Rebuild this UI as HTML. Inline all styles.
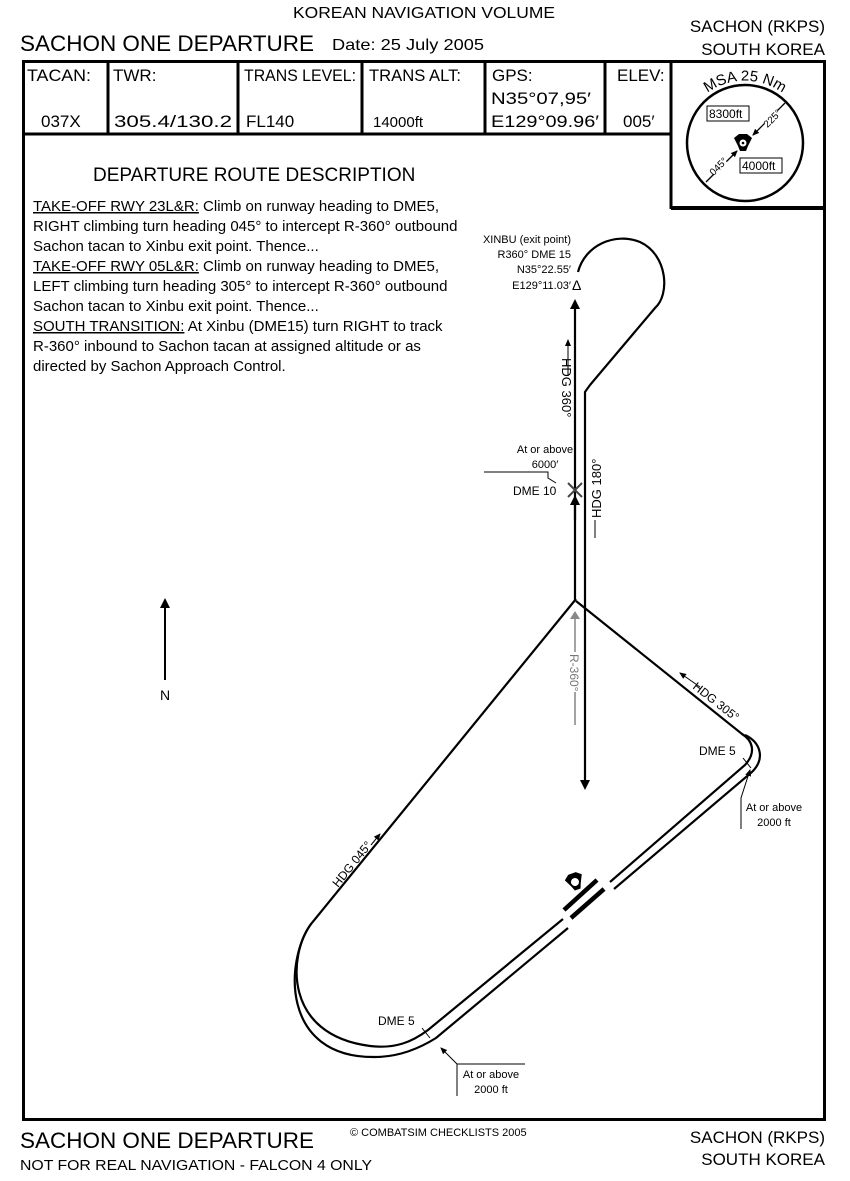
<!DOCTYPE html>
<html><head><meta charset="utf-8"><style>
html,body{margin:0;padding:0;background:#fff}
svg{display:block}
text{font-family:"Liberation Sans",sans-serif;fill:#000}
</style></head><body>
<svg width="850" height="1181" viewBox="0 0 850 1181" xmlns="http://www.w3.org/2000/svg">
<defs>
<marker id="ah" markerWidth="10" markerHeight="10" refX="5" refY="5" orient="auto" markerUnits="userSpaceOnUse">
<path d="M0,0 L10,5 L0,10 z" fill="#000"/></marker>
<marker id="ahs" markerWidth="7" markerHeight="6" refX="6" refY="3" orient="auto" markerUnits="userSpaceOnUse">
<path d="M0,0 L7,3 L0,6 z" fill="#000"/></marker>
<marker id="ahg" markerWidth="8" markerHeight="10" refX="4" refY="5" orient="auto" markerUnits="userSpaceOnUse">
<path d="M0,0 L8,5 L0,10 z" fill="#888"/></marker>
<path id="msaarc" d="M690,112 A64,64 0 0 1 800,112"/>
</defs>
<!-- header -->
<text x="424" y="18" font-size="16" text-anchor="middle" textLength="262" lengthAdjust="spacingAndGlyphs">KOREAN NAVIGATION VOLUME</text>
<text x="20" y="51" font-size="22" textLength="294" lengthAdjust="spacingAndGlyphs">SACHON ONE DEPARTURE</text>
<text x="332" y="50" font-size="16" textLength="152" lengthAdjust="spacingAndGlyphs">Date: 25 July 2005</text>
<text x="825" y="32" font-size="17" text-anchor="end">SACHON (RKPS)</text>
<text x="825" y="55" font-size="17" text-anchor="end">SOUTH KOREA</text>
<!-- frame -->
<rect x="23.5" y="61.5" width="801" height="1058" fill="none" stroke="#000" stroke-width="3"/>
<line x1="22" y1="134" x2="672" y2="134" stroke="#000" stroke-width="3"/>
<g stroke="#000" stroke-width="3">
<line x1="108" y1="61" x2="108" y2="134"/><line x1="238" y1="61" x2="238" y2="134"/>
<line x1="362" y1="61" x2="362" y2="134"/><line x1="485" y1="61" x2="485" y2="134"/>
<line x1="605" y1="61" x2="605" y2="134"/><line x1="671" y1="61" x2="671" y2="209"/>
<line x1="671" y1="208" x2="826" y2="208" stroke-width="4"/>
</g>
<g font-size="17">
<text x="27" y="81" textLength="64" lengthAdjust="spacingAndGlyphs">TACAN:</text><text x="41" y="127">037X</text>
<text x="113" y="81">TWR:</text><text x="114" y="127" textLength="118" lengthAdjust="spacingAndGlyphs">305.4/130.2</text>
<text x="244" y="81" textLength="112" lengthAdjust="spacingAndGlyphs">TRANS LEVEL:</text><text x="246" y="127">FL140</text>
<text x="369" y="81" textLength="92" lengthAdjust="spacingAndGlyphs">TRANS ALT:</text><text x="373" y="127" font-size="15">14000ft</text>
<text x="492" y="81">GPS:</text><text x="491" y="104" textLength="100" lengthAdjust="spacingAndGlyphs">N35°07,95′</text><text x="491" y="127" textLength="108" lengthAdjust="spacingAndGlyphs">E129°09.96′</text>
<text x="617" y="81">ELEV:</text><text x="623" y="127">005′</text>
</g>
<!-- MSA -->
<circle cx="745" cy="143" r="58" fill="none" stroke="#000" stroke-width="2.5"/>
<text font-size="15"><textPath href="#msaarc" startOffset="50%" text-anchor="middle">MSA 25 Nm</textPath></text>
<line x1="706" y1="182" x2="737" y2="151" stroke="#000" stroke-width="1.3" marker-end="url(#ahs)"/>
<line x1="785" y1="103" x2="753" y2="135" stroke="#000" stroke-width="1.3" marker-end="url(#ahs)"/>
<rect x="707" y="106" width="42" height="15" fill="#fff" stroke="#000"/><text x="709" y="118" font-size="12">8300ft</text>
<rect x="740" y="158" width="42" height="15" fill="#fff" stroke="#000"/><text x="742" y="170" font-size="12">4000ft</text>
<rect x="709" y="160" width="18" height="12" fill="#fff" transform="rotate(-45 718 166)"/>
<text x="718" y="170" font-size="10" text-anchor="middle" transform="rotate(-45 718 166)">045°</text>
<rect x="763" y="112" width="18" height="12" fill="#fff" transform="rotate(-45 772 118)"/>
<text x="772" y="122" font-size="10" text-anchor="middle" transform="rotate(-45 772 118)">225°</text>
<g transform="translate(743,143)"><path d="M-9,-5 L-4,-9 L4,-9 L9,-5 L5,3 L3,8 L-3,8 L-5,3 z" fill="#000"/><circle r="3.5" fill="#fff"/><circle r="1.3" fill="#000"/></g>
<!-- description -->
<text x="93" y="181" font-size="19">DEPARTURE ROUTE DESCRIPTION</text>
<g font-size="15">
<text x="33" y="211"><tspan text-decoration="underline">TAKE-OFF RWY 23L&amp;R:</tspan> Climb on runway heading to DME5,</text>
<text x="33" y="231">RIGHT climbing turn heading 045° to intercept R-360° outbound</text>
<text x="33" y="251">Sachon tacan to Xinbu exit point. Thence...</text>
<text x="33" y="271"><tspan text-decoration="underline">TAKE-OFF RWY 05L&amp;R:</tspan> Climb on runway heading to DME5,</text>
<text x="33" y="291">LEFT climbing turn heading 305° to intercept R-360° outbound</text>
<text x="33" y="311">Sachon tacan to Xinbu exit point. Thence...</text>
<text x="33" y="331"><tspan text-decoration="underline">SOUTH TRANSITION:</tspan> At Xinbu (DME15) turn RIGHT to track</text>
<text x="33" y="351">R-360° inbound to Sachon tacan at assigned altitude or as</text>
<text x="33" y="371">directed by Sachon Approach Control.</text>
</g>
<!-- Xinbu -->
<g font-size="11" text-anchor="end">
<text x="571" y="243">XINBU (exit point)</text>
<text x="571" y="258">R360° DME 15</text>
<text x="571" y="273">N35°22.55′</text>
<text x="571" y="289">E129°11.03′</text>
</g>
<text x="572" y="290" font-size="14">Δ</text>
<!-- north route lines -->
<g fill="none" stroke="#000" stroke-width="2.2">
<line x1="575" y1="600" x2="575" y2="304" marker-end="url(#ah)"/>
<line x1="575" y1="520" x2="575" y2="500" marker-end="url(#ah)"/>
<path d="M578,272 C585,245 615,232 640,242 C668,255 670,295 655,308 L590,385 L585,392 L585,785" marker-end="url(#ah)"/>
<path d="M568,483 L582,497 M582,483 L568,497" stroke="#444" stroke-width="2"/>
</g>
<line x1="568" y1="376" x2="568" y2="340" stroke="#000" stroke-width="1" marker-end="url(#ahs)"/>
<text x="562" y="358" font-size="13" transform="rotate(90 562 358)">HDG 360°</text>
<line x1="595" y1="520" x2="595" y2="538" stroke="#000" stroke-width="1"/>
<text x="601" y="518" font-size="13" transform="rotate(-90 601 518)">HDG 180°</text>
<text x="545" y="453" font-size="11" text-anchor="middle">At or above</text>
<text x="545" y="468" font-size="11" text-anchor="middle">6000′</text>
<path d="M484,472 L548,472 L548,478 L556,483" fill="none" stroke="#000" stroke-width="1"/>
<text x="513" y="495" font-size="12">DME 10</text>
<!-- R-360 gray -->
<line x1="575" y1="725" x2="575" y2="615" stroke="#999" stroke-width="1.8" marker-end="url(#ahg)"/>
<rect x="569" y="652" width="12" height="40" fill="#fff"/>
<text x="570" y="654" font-size="12" style="fill:#777" transform="rotate(90 570 654)">R-360°</text>
<!-- main loop -->
<g fill="none" stroke="#000" stroke-width="2.2">
<path d="M576,599 L311,924 C288,955 283,1035 370,1046 C395,1049 412,1042 428,1030 L563,919"/>
<path d="M311,924 C285,960 280,1058 375,1057 C400,1057 420,1048 436,1038 L568,928"/>
<path d="M610,882 L745,765 C757,752 752,740 742,734 L576,601"/>
<path d="M614,889 L752,772 C766,758 760,742 745,735"/>
<line x1="743" y1="758" x2="751" y2="768" stroke-width="1"/>
<line x1="422" y1="1028" x2="430" y2="1038" stroke-width="1"/>
<line x1="564" y1="910" x2="597" y2="880" stroke-width="4.5"/>
<line x1="571" y1="918" x2="604" y2="889" stroke-width="4.5"/>
</g>
<g transform="translate(575,882) rotate(-20)"><path d="M-9,-5 L-4,-9 L4,-9 L9,-5 L5,3 L3,8 L-3,8 L-5,3 z" fill="#000"/><circle r="4" fill="#fff"/></g>
<!-- labels -->
<line x1="700" y1="687" x2="680" y2="673" stroke="#000" stroke-width="1" marker-end="url(#ahs)"/>
<text x="692" y="688" font-size="12" transform="rotate(38 692 688)">HDG 305°</text>
<text x="699" y="755" font-size="12">DME 5</text>
<text x="774" y="811" font-size="11" text-anchor="middle">At or above</text>
<text x="774" y="826" font-size="11" text-anchor="middle">2000 ft</text>
<path d="M741,829 L741,798 L750,770" fill="none" stroke="#000" stroke-width="1" marker-end="url(#ahs)"/>
<text x="338" y="888" font-size="12" transform="rotate(-51 338 888)">HDG 045°</text>
<line x1="371" y1="845" x2="380" y2="834" stroke="#000" stroke-width="1" marker-end="url(#ahs)"/>
<text x="378" y="1025" font-size="12">DME 5</text>
<text x="491" y="1078" font-size="11" text-anchor="middle">At or above</text>
<text x="491" y="1093" font-size="11" text-anchor="middle">2000 ft</text>
<path d="M457,1096 L457,1064 L525,1064 M457,1064 L441,1048" fill="none" stroke="#000" stroke-width="1" marker-end="url(#ahs)"/>
<!-- north arrow -->
<line x1="165" y1="680" x2="165" y2="603" stroke="#000" stroke-width="2" marker-end="url(#ah)"/>
<text x="165" y="700" font-size="14" text-anchor="middle">N</text>
<!-- footer -->
<text x="20" y="1148" font-size="22" textLength="294" lengthAdjust="spacingAndGlyphs">SACHON ONE DEPARTURE</text>
<text x="20" y="1170" font-size="15" textLength="352" lengthAdjust="spacingAndGlyphs">NOT FOR REAL NAVIGATION - FALCON 4 ONLY</text>
<text x="350" y="1136" font-size="11">© COMBATSIM CHECKLISTS 2005</text>
<text x="825" y="1143" font-size="17" text-anchor="end">SACHON (RKPS)</text>
<text x="825" y="1165" font-size="17" text-anchor="end">SOUTH KOREA</text>
</svg>
</body></html>
